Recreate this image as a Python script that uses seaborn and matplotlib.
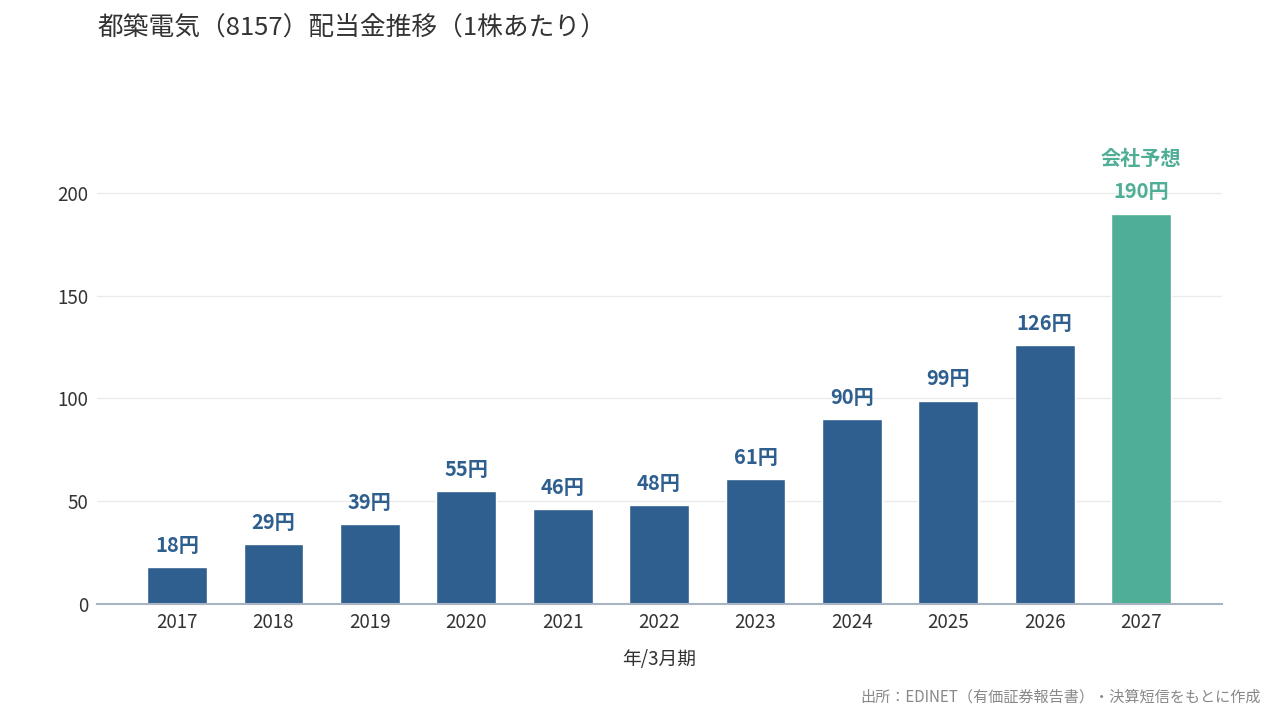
import matplotlib
matplotlib.use('Agg')
import matplotlib.pyplot as plt
import seaborn as sns
import pandas as pd

# データ（1株あたり配当金、円）
years = ['2017', '2018', '2019', '2020', '2021', '2022', '2023', '2024', '2025', '2026', '2027']
dividends = [18, 29, 39, 55, 46, 48, 61, 90, 99, 126, 190]
kinds = ['実績'] * 10 + ['予想']
yticks = [0, 50, 100, 150, 200]

BLUE = '#2e5f8e'
GREEN = '#4fae96'

sns.set_theme(style='white')
plt.rcParams['font.family'] = ['Noto Sans CJK JP', 'DejaVu Sans']

df = pd.DataFrame({'year': years, 'dividend': dividends, 'kind': kinds})

fig = plt.figure(figsize=(12.8, 7.2), dpi=100)
ax = fig.add_axes([0.0758, 0.1611, 0.8789, 0.6565])

sns.barplot(data=df, x='year', y='dividend', hue='kind',
            palette={'実績': BLUE, '予想': GREEN}, dodge=False,
            width=0.62, legend=False, ax=ax, saturation=1)

ax.set_ylim(0, 230)
ax.set_xlim(-0.83, 10.84)
ax.set_yticks(yticks)
ax.yaxis.grid(True, color='#ebebeb', linewidth=1)
ax.set_axisbelow(True)
for s in ['top', 'right', 'left']:
    ax.spines[s].set_visible(False)
ax.spines['bottom'].set_color('#a9b4c2')
ax.spines['bottom'].set_linewidth(1.5)
ax.tick_params(axis='both', length=0, labelsize=13.5, colors='#333333', pad=6)
ax.set_ylabel('')
ax.set_xlabel('年/3月期', fontsize=13.5, color='#333333', labelpad=11)

for i, (v, k) in enumerate(zip(dividends, kinds)):
    c = GREEN if k == '予想' else BLUE
    ax.annotate(f'{v}円', (i, v), xytext=(0, 8), textcoords='offset points',
                ha='center', va='bottom', fontsize=14.5, fontweight='bold', color=c)
    if k == '予想':
        ax.annotate('会社予想', (i, v), xytext=(0, 32), textcoords='offset points',
                    ha='center', va='bottom', fontsize=14.5, fontweight='bold', color=c)

fig.text(0.0758, 0.962, '都築電気（8157）配当金推移（1株あたり）',
         fontsize=18.5, color='#333333', ha='left', va='center')
fig.text(0.985, 0.032, '出所：EDINET（有価証券報告書）・決算短信をもとに作成',
         fontsize=10.9, color='#888888', ha='right', va='center')

fig.savefig('out.png', dpi=100)
